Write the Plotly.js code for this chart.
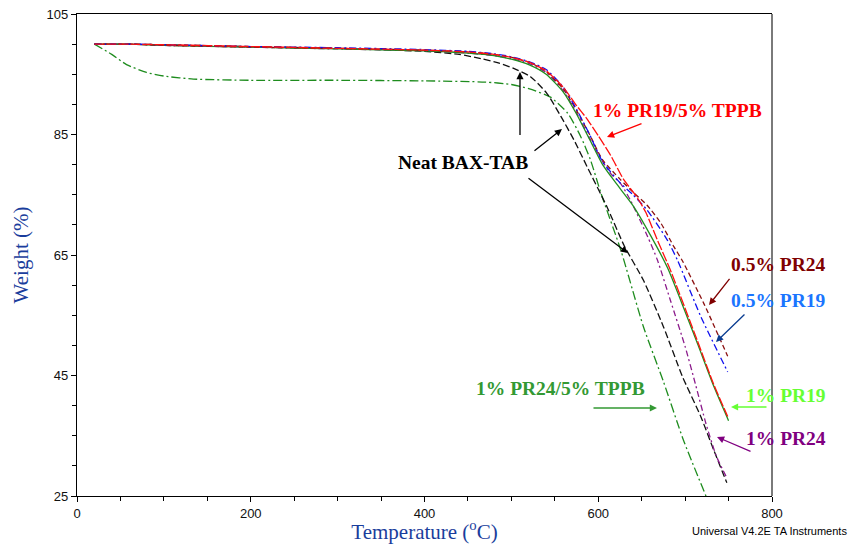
<!DOCTYPE html>
<html>
<head>
<meta charset="utf-8">
<script src="https://cdn.plot.ly/plotly-3.0.1.min.js"></script>
<style>html,body{margin:0;padding:0;background:#fff;}#chart{width:849px;height:544px;}</style>
</head>
<body>
<div id="chart"></div>
<script>
// Temperature (°C) and weight (%) for each sample
const neatT = [20,60,100,200,300,400,440,465,485,502,522,541,557,572,587,610,630,652,675,697,718,733,748];
const neatW = [100,100,99.9,99.6,99.3,98.8,98.3,97.6,96.9,96.0,94.6,91.8,88.0,84.1,79.7,73.0,66.5,60.8,53.1,44.8,38.2,32.6,27.2];

const pr19tppbT = [20,60,100,200,300,400,450,480,500,520,540,560,575,587,600,614,629,645,655,668,683,714,733,749];
const pr19tppbW = [100,100,99.9,99.6,99.3,99.0,98.7,98.3,97.8,97.0,95.6,92.8,89.8,87.6,84.8,81.6,77.6,74.5,72.0,67.5,62.5,50.8,43.5,38.2];

const pr24halfT = [20,60,100,200,300,400,450,480,500,520,540,560,575,590,605,625,641,656,672,687,697,722,749];
const pr24halfW = [100,100,99.8,99.5,99.3,99.0,98.7,98.3,97.8,97.0,95.5,92.5,89.0,85.0,80.8,77.6,75.3,73.3,70.3,66.4,64.0,56.8,48.2];

const pr19halfT = [20,60,100,200,300,400,450,480,500,520,540,560,575,590,605,625,640,656,679,691,718,749];
const pr19halfW = [100,100,99.9,99.6,99.4,99.1,98.8,98.4,97.9,97.1,95.8,92.8,89.2,85.0,80.5,77.0,75.0,72.5,67.6,64.2,54.8,45.6];

const pr19oneT = [20,60,100,200,300,400,450,480,500,520,540,560,575,590,605,620,640,660,680,700,715,733,750];
const pr19oneW = [100,100,99.8,99.5,99.2,98.9,98.5,98.1,97.5,96.6,95.0,92.0,88.4,84.2,80.0,77.0,73.2,68.3,62.8,55.6,50.0,43.2,37.5];

const pr24oneT = [20,60,100,200,300,400,450,480,500,520,540,560,575,590,605,615,626,637,657,668,683,700,712,724,736,747];
const pr24oneW = [100,100,99.8,99.5,99.2,98.9,98.5,98.1,97.6,96.8,95.3,92.2,88.6,84.4,80.5,78.4,76.8,74.1,68.0,64.2,57.5,49.8,43.5,37.0,31.6,28.3];

const pr24tppbT = [20,40,57,80,100,134,200,300,400,470,500,520,545,565,580,591,603,626,652,675,698,724];
const pr24tppbW = [100,98.3,96.6,95.3,94.7,94.2,94.0,94.0,93.9,93.7,93.3,92.6,91.2,88.5,84.6,80.8,75.3,65.8,53.1,44.0,34.3,25.0];

const xTicks = [0,200,400,600,800];
const yTicks = [25,45,65,85,105];

function tr(x, y, color, dash, name) {
  return {x: x, y: y, type: 'scatter', mode: 'lines', name: name,
    line: {color: color, width: 1.3, dash: dash, shape: 'spline', smoothing: 0.6},
    hoverinfo: 'skip'};
}

const data = [
  tr(pr24tppbT, pr24tppbW, '#1e8c1e', '9px,3px,2px,3px', '1% PR24/5% TPPB'),
  tr(neatT, neatW, '#111111', '7px,3px', 'Neat BAX-TAB'),
  tr(pr24oneT, pr24oneW, '#8b1a8b', '6px,3px,2px,3px', '1% PR24'),
  tr(pr19oneT, pr19oneW, '#1f8f1f', 'solid', '1% PR19'),
  tr(pr24halfT, pr24halfW, '#8b1010', '5px,3px', '0.5% PR24'),
  tr(pr19halfT, pr19halfW, '#1010ee', '7px,3px,2px,3px', '0.5% PR19'),
  tr(pr19tppbT, pr19tppbW, '#ff1010', '10px,2px', '1% PR19/5% TPPB')
];

const lblFont = (c) => ({family: '"Liberation Serif", "Times New Roman", serif', size: 19.5, color: c});

function label(text, xp, yp, color) {
  return {text: '<b>' + text + '</b>', xref: 'paper', yref: 'paper', x: xp, y: yp,
    xanchor: 'center', yanchor: 'middle', showarrow: false, font: lblFont(color)};
}
function arrow(xp, yp, ax, ay, color) {
  return {text: ' ', xref: 'paper', yref: 'paper', x: xp, y: yp, ax: ax, ay: ay,
    showarrow: true, arrowhead: 2, arrowsize: 1.1, arrowwidth: 1.3, arrowcolor: color, standoff: 0,
    font: {size: 1}};
}

const annotations = [
  label('1% PR19/5% TPPB', 0.8647, 0.7988, '#ff0000'),
  label('Neat BAX-TAB', 0.5554, 0.6929, '#000000'),
  label('0.5% PR24', 1.0086, 0.4793, '#800000'),
  label('0.5% PR19', 1.0086, 0.4066, '#1a75ff'),
  label('1% PR19', 1.0201, 0.2095, '#66ff33'),
  label('1% PR24', 1.0201, 0.1183, '#800080'),
  label('1% PR24/5% TPPB', 0.695, 0.222, '#339933'),
  arrow(0.7626, 0.7448, 36, -14, '#ff0000'),
  arrow(0.6374, 0.8797, 0, 65, '#000000'),
  arrow(0.6978, 0.7614, -29, 23, '#000000'),
  arrow(0.7928, 0.5041, -101, -76, '#000000'),
  arrow(0.9094, 0.3963, 22, -28, '#800000'),
  arrow(0.9194, 0.3195, 30, -29, '#0b3d91'),
  arrow(0.941, 0.1846, 37, 0, '#66ff33'),
  arrow(0.9209, 0.1224, 35, 15, '#800080'),
  arrow(0.8345, 0.1826, -65, 0, '#339933'),
  {text: 'Universal V4.2E TA Instruments', xref: 'paper', yref: 'paper', x: 1.111, y: -0.0726,
   xanchor: 'right', yanchor: 'middle', showarrow: false,
   font: {family: '"Liberation Sans", Arial, sans-serif', size: 11, color: '#000'}}
];

const layout = {
  width: 849, height: 544,
  margin: {l: 77, r: 77, t: 14, b: 48},
  paper_bgcolor: '#ffffff', plot_bgcolor: '#ffffff',
  showlegend: false,
  xaxis: {
    range: [0, 800], tickvals: xTicks, ticktext: xTicks.map(String),
    ticks: 'outside', ticklen: 5, tickwidth: 1, tickcolor: '#000',
    minor: {dtick: 50, tick0: 0, ticks: 'outside', ticklen: 4, tickcolor: '#000'},
    showgrid: false, zeroline: false, showline: true, linecolor: '#000', linewidth: 1.2, mirror: true,
    tickfont: {family: '"Liberation Sans", Arial, sans-serif', size: 13, color: '#111'},
    title: {text: 'Temperature (<sup>o</sup>C)', standoff: 5,
      font: {family: '"Liberation Serif", "Times New Roman", serif', size: 21, color: '#1a3d9c'}}
  },
  yaxis: {
    range: [25, 105], tickvals: yTicks, ticktext: yTicks.map(String),
    ticks: 'outside', ticklen: 5, tickwidth: 1, tickcolor: '#000',
    minor: {dtick: 5, tick0: 25, ticks: 'outside', ticklen: 4, tickcolor: '#000'},
    showgrid: false, zeroline: false, showline: true, linecolor: '#000', linewidth: 1.2, mirror: false,
    tickfont: {family: '"Liberation Sans", Arial, sans-serif', size: 13, color: '#111'},
    title: {text: 'Weight (%)', standoff: 12,
      font: {family: '"Liberation Serif", "Times New Roman", serif', size: 21, color: '#1a3d9c'}}
  },
  shapes: [
    {type: 'line', xref: 'paper', yref: 'paper', x0: 1, x1: 1, y0: 0, y1: 1,
     line: {color: '#7a7a7a', width: 2}}
  ],
  annotations: annotations
};

Plotly.newPlot('chart', data, layout, {staticPlot: true, displayModeBar: false});
</script>
</body>
</html>
